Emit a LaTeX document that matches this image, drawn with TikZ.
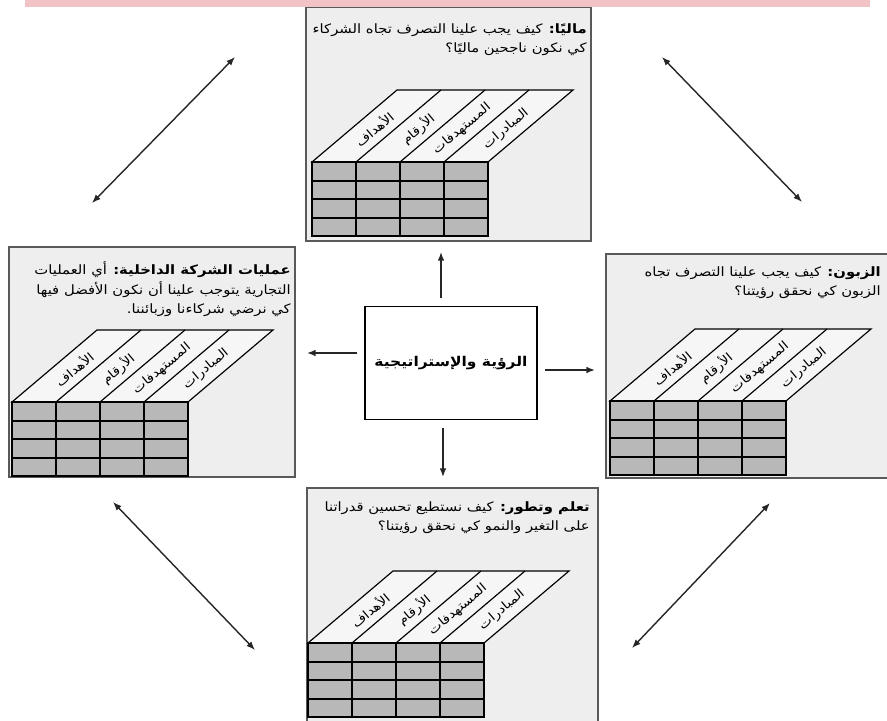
\documentclass[tikz,border=0pt]{standalone}
\usepackage{fontspec}
\usetikzlibrary{arrows.meta,fit}
\newfontfamily\arabicfont[Script=Arabic, FakeStretch=1.15]{DejaVu Sans}
\TeXXeTstate=1

\definecolor{bandpink}{RGB}{241,194,198}
\definecolor{panelgray}{RGB}{238,238,238}
\definecolor{cellgray}{RGB}{184,184,184}

\tikzset{
    panel/.style={draw=gray!70!black, line width=1.2pt, fill=panelgray, inner sep=0pt},
    ptext/.style={font=\arabicfont\fontsize{11}{17}\selectfont, align=right, anchor=north east, inner sep=0pt},
    colhead/.style={font=\arabicfont\fontsize{10.5}{11}\selectfont, rotate=40, inner sep=0pt},
    arr/.style={-{Latex[length=2.6mm,width=2mm]}, line width=1.2pt, draw=black!85},
    darr/.style={{Latex[length=2.6mm,width=2mm]}-{Latex[length=2.6mm,width=2mm]}, line width=1.2pt, draw=black!85},
}

% scorecard table, #1/#2 = lower left corner of the top face
\newcommand{\bscgrid}[2]{%
    \begin{scope}[shift={(#1,#2)}]
        % top face
        \draw[line width=1pt, fill=white!50!panelgray] (0,0) -- (85,-72) -- (261,-72) -- (176,0) -- cycle;
        \foreach \i in {1,2,3} {
            \draw[line width=1pt] ({\i*44},0) -- ({\i*44+85},-72);
        };
        \foreach \t [count=\i from 0] in {الأهداف,الأرقام,المستهدفات,المبادرات} {
            \node[colhead] at ({\i*44+62},-33) {\beginR\t\endR};
        };
        % the cells
        \draw[line width=1pt, fill=cellgray] (0,0) rectangle (176,74);
        \foreach \r in {19,37,56} {
            \draw[line width=1pt] (0,\r) -- (176,\r);
        };
        \foreach \i in {1,2,3} {
            \draw[line width=1pt] ({\i*44},0) -- ({\i*44},74);
        };
    \end{scope}}

\begin{document}
\begin{tikzpicture}[x=0.03cm, y=-0.03cm]
    % the frame
    \path[clip] (0,0) rectangle (887,720);

    % the four panels
    \node[panel, fit={(306,7) (591,241)}] (fin) {};
    \node[panel, fit={(9,247) (295,477)}] (proc) {};
    \node[panel, fit={(606,254) (895,478)}] (cust) {};
    \node[panel, fit={(307,488) (598,730)}] (lrn) {};

    \node[ptext] (fintxt) at (587,23) {\beginR{\bfseries ماليًا:} كيف يجب علينا التصرف تجاه الشركاء\endR\\
        \beginR كي نكون ناجحين ماليًا؟\endR};
    \node[ptext] (proctxt) at (291,261) {\beginR{\bfseries عمليات الشركة الداخلية:} أي العمليات\endR\\
        \beginR التجارية يتوجب علينا أن نكون الأفضل فيها\endR\\
        \beginR كي نرضي شركاءنا وزبائننا.\endR};
    \node[ptext] (custtxt) at (881,266) {\beginR{\bfseries الزبون:} كيف يجب علينا التصرف تجاه\endR\\
        \beginR الزبون كي نحقق رؤيتنا؟\endR};
    \node[ptext] (lrntxt) at (590,501) {\beginR{\bfseries تعلم وتطور:} كيف نستطيع تحسين قدراتنا\endR\\
        \beginR على التغير والنمو كي نحقق رؤيتنا؟\endR};

    % the tables
    \bscgrid{312}{162}
    \bscgrid{12}{402}
    \bscgrid{610}{401}
    \bscgrid{308}{643}

    % the centre
    \node[draw, line width=1pt, fill=white, minimum width=5.16cm, minimum height=3.39cm,
        font=\arabicfont\bfseries\fontsize{11.5}{14}\selectfont] (vision) at (451,363) {\beginR الرؤية والإستراتيجية\endR};

    \fill[bandpink] (25,0) rectangle (870,7);

    % arrows
    \coordinate (U0) at (441,298);
    \coordinate (U1) at (441,252);
    \coordinate (L0) at (357,353);
    \coordinate (L1) at (307,353);
    \coordinate (R0) at (545,370);
    \coordinate (R1) at (595,370);
    \coordinate (D0) at (443,428);
    \coordinate (D1) at (443,477);

    \draw[arr] (U0) -- (U1);
    \draw[arr] (L0) -- (L1);
    \draw[arr] (R0) -- (R1);
    \draw[arr] (D0) -- (D1);

    \coordinate (A) at (92,203);
    \coordinate (B) at (235,57);
    \coordinate (C) at (662,57);
    \coordinate (D) at (802,202);
    \coordinate (E) at (113,502);
    \coordinate (F) at (255,650);
    \coordinate (G) at (770,503);
    \coordinate (H) at (632,648);

    \draw[darr] (A) -- (B);
    \draw[darr] (C) -- (D);
    \draw[darr] (E) -- (F);
    \draw[darr] (G) -- (H);

\end{tikzpicture}
\end{document}
